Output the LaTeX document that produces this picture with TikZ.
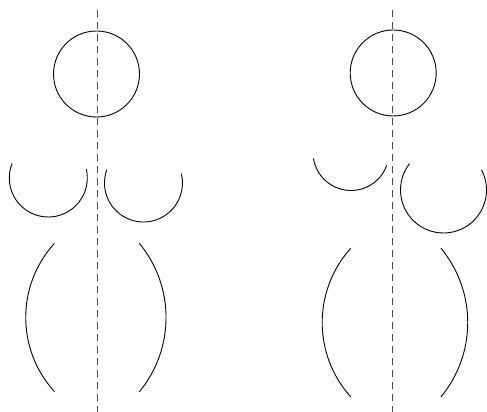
\documentclass[tikz,border=0pt]{standalone}
\begin{document}
\begin{tikzpicture}[x=1pt,y=1pt,
  axisline/.style={draw=black!70, line width=0.9pt, dash pattern=on 7pt off 5pt},
  bodyline/.style={draw=black, line width=0.9pt}]
\useasboundingbox (0,0) rectangle (487,412);
% ---------- left figure ----------
\draw[axisline] (97,402) -- (97,0);
\draw[bodyline] (96.5,338) circle[radius=43];
\draw[bodyline] (48.3,234) ++(158:39) arc[start angle=158, end angle=373, radius=39];
\draw[bodyline] (143.5,229) ++(160:39) arc[start angle=160, end angle=374, radius=39];
\draw[bodyline] (54.5,168.7) arc[start angle=137.6, end angle=222.4, radius=110];
\draw[bodyline] (139.3,168.7) arc[start angle=39.6, end angle=-39.6, radius=116.5];
% ---------- right figure ----------
\draw[axisline] (392.7,402) -- (392.7,0);
\draw[bodyline] (393.2,339) circle[radius=43];
\draw[bodyline] (351,259.5) ++(189:38) arc[start angle=189, end angle=340, radius=38];
\draw[bodyline] (443.5,222) ++(142:43) arc[start angle=142, end angle=388, radius=43];
\draw[bodyline] (350.7,163.7) arc[start angle=138, end angle=222, radius=111];
\draw[bodyline] (441,163.7) arc[start angle=39.6, end angle=-39.6, radius=116.5];
\end{tikzpicture}
\end{document}
